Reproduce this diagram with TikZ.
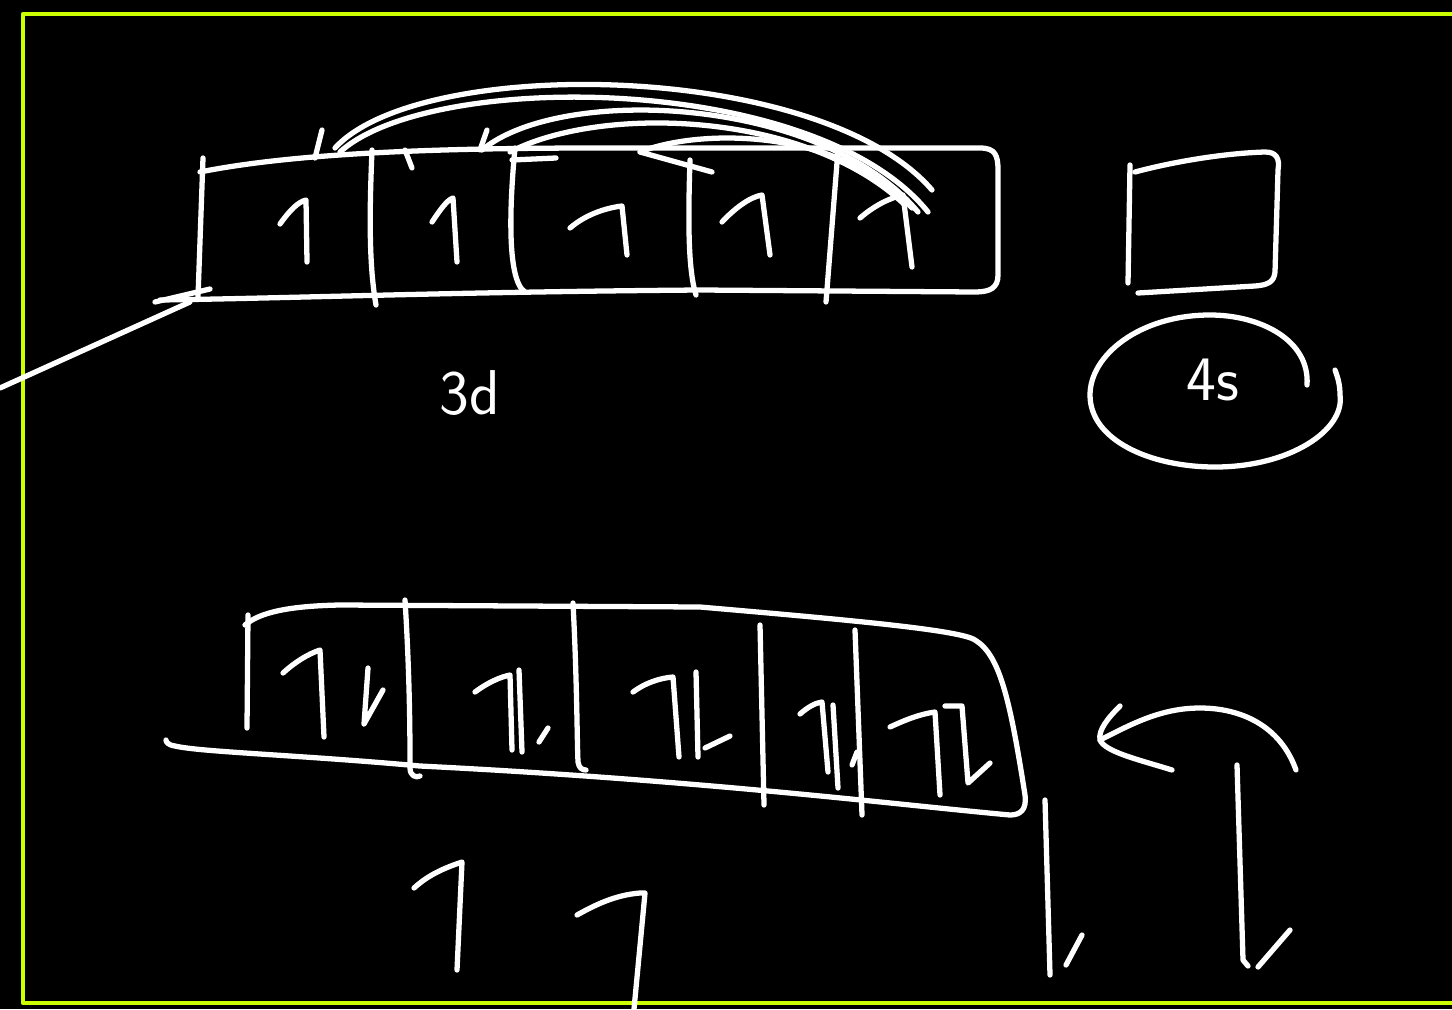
\documentclass[tikz,border=0pt]{standalone}
\usepackage{tikz}
\definecolor{framelime}{RGB}{204,255,0}
\begin{document}
\begin{tikzpicture}[x=0.01cm, y=-0.01cm, line cap=round, line join=round,
    chalk/.style={draw=white, line width=1.5pt},
    frameline/.style={draw=framelime, line width=1.3pt},
    handtext/.style={text=white, font=\sffamily\fontsize{18}{20}\selectfont}]
    % 背景与画布大小
    \fill[black] (0,0) rectangle (1452,1009);
    \useasboundingbox (0,0) rectangle (1452,1009);

    % 外框（右侧与底部出画）
    \draw[frameline] (1460,14) -- (23,14) -- (23,1003) -- (1460,1003);

    % 3d 轨道外框
    \draw[chalk] (200,172) .. controls (300,152) and (450,148) .. (600,148)
        -- (980,148) .. controls (995,148) and (998,155) .. (998,170)
        -- (998,275) .. controls (998,288) and (990,292) .. (975,292)
        -- (700,290) .. controls (450,292) and (300,298) .. (160,300);
    \draw[chalk] (203,158) -- (198,297);
    \draw[chalk] (155,302) -- (210,289);
    \draw[chalk] (0,388) -- (190,302);

    % 3d 隔线
    \draw[chalk] (372,150) .. controls (370,200) and (368,260) .. (376,305);
    \draw[chalk] (515,148) .. controls (510,200) and (506,280) .. (525,292);
    \draw[chalk] (690,160) .. controls (688,220) and (688,270) .. (696,295);
    \draw[chalk] (838,150) -- (826,302);

    % 3d 中的单电子（半箭头）
    \draw[chalk] (280,224) .. controls (290,210) and (298,202) .. (306,200) -- (307,262);
    \draw[chalk] (432,222) .. controls (440,210) and (447,200) .. (453,198) -- (457,262);
    \draw[chalk] (570,228) .. controls (585,215) and (605,208) .. (622,206) -- (627,255);
    \draw[chalk] (722,222) .. controls (735,208) and (750,197) .. (762,195) -- (770,255);
    \draw[chalk] (860,218) .. controls (875,205) and (890,198) .. (903,195) -- (912,267);

    % 顶部弧线
    \draw[chalk] (335,148) .. controls (420,55) and (820,60) .. (932,190);
    \draw[chalk] (340,152) .. controls (430,70) and (815,72) .. (928,212);
    \draw[chalk] (482,150) .. controls (560,85) and (820,95) .. (918,212);
    \draw[chalk] (510,152) .. controls (600,105) and (805,110) .. (905,205);
    \draw[chalk] (640,152) .. controls (700,128) and (840,128) .. (912,208);
    \draw[chalk] (640,152) -- (712,172);
    \draw[chalk] (322,130) -- (315,158);
    \draw[chalk] (487,130) -- (480,150);
    \draw[chalk] (405,150) -- (412,168);
    \draw[chalk] (512,160) -- (556,158);

    % 3d 标签
    \node[handtext] (label3d) at (470,393) {3d};

    % 4s 方框与圆圈
    \draw[chalk] (1130,165) -- (1128,283);
    \draw[chalk] (1135,172) .. controls (1180,160) and (1230,153) .. (1265,152)
        .. controls (1276,152) and (1280,158) .. (1278,170)
        -- (1275,272) .. controls (1274,282) and (1268,285) .. (1255,286)
        -- (1138,293);
    \draw[chalk] (1307,385) .. controls (1310,340) and (1260,315) .. (1210,315)
        .. controls (1140,315) and (1090,355) .. (1090,395)
        .. controls (1090,440) and (1150,467) .. (1215,467)
        .. controls (1290,467) and (1345,430) .. (1340,395)
        .. controls (1340,385) and (1338,378) .. (1335,370);
    \node[handtext] (label4s) at (1213,380) {4s};

    % 下方轨道外框
    \draw[chalk] (245,625) .. controls (260,612) and (290,606) .. (340,605)
        -- (700,607) .. controls (850,620) and (960,630) .. (975,640)
        .. controls (1000,655) and (1010,700) .. (1025,795)
        .. controls (1027,810) and (1020,815) .. (1010,815)
        .. controls (900,805) and (700,780) .. (420,766)
        .. controls (300,755) and (200,752) .. (175,746)
        .. controls (168,745) and (166,742) .. (166,740);
    \draw[chalk] (248,615) -- (247,728);

    % 下方隔线
    \draw[chalk] (405,600) .. controls (410,680) and (410,740) .. (410,768)
        .. controls (410,776) and (416,778) .. (420,776);
    \draw[chalk] (573,603) .. controls (577,680) and (577,740) .. (578,762)
        .. controls (579,768) and (582,770) .. (586,770);
    \draw[chalk] (760,625) -- (764,805);
    \draw[chalk] (855,630) -- (862,815);

    % 成对电子
    \draw[chalk] (283,673) .. controls (295,662) and (308,654) .. (320,650) -- (324,737);
    \draw[chalk] (368,668) -- (364,724) -- (383,690);
    \draw[chalk] (475,692) .. controls (487,683) and (500,677) .. (510,675) -- (512,750);
    \draw[chalk] (519,670) -- (522,752);
    \draw[chalk] (539,742) -- (548,728);
    \draw[chalk] (633,692) .. controls (645,683) and (660,678) .. (673,677) -- (679,757);
    \draw[chalk] (696,672) -- (698,757);
    \draw[chalk] (705,748) -- (730,736);
    \draw[chalk] (800,714) .. controls (808,707) and (815,703) .. (822,702) -- (828,772);
    \draw[chalk] (833,705) -- (838,788);
    \draw[chalk] (852,765) -- (857,752);
    \draw[chalk] (890,727) .. controls (905,720) and (920,714) .. (935,712) -- (940,795);
    \draw[chalk] (945,706) -- (962,706) -- (968,783) -- (990,763);

    % 下方游离电子
    \draw[chalk] (414,888) .. controls (425,878) and (438,870) .. (462,862) -- (457,970);
    \draw[chalk] (577,915) .. controls (595,905) and (615,895) .. (640,893)
        -- (645,893) -- (634,1009);
    \draw[chalk] (1045,800) -- (1050,975);
    \draw[chalk] (1066,965) -- (1082,935);
    \draw[chalk] (1237,765) -- (1243,960) -- (1248,966);
    \draw[chalk] (1258,967) -- (1290,930);

    % 弯箭头
    \draw[chalk] (1296,770) .. controls (1280,725) and (1240,708) .. (1200,708)
        .. controls (1160,708) and (1130,725) .. (1100,740);
    \draw[chalk] (1120,706) .. controls (1108,718) and (1098,730) .. (1100,740)
        .. controls (1105,752) and (1140,760) .. (1172,770);
\end{tikzpicture}
\end{document}
